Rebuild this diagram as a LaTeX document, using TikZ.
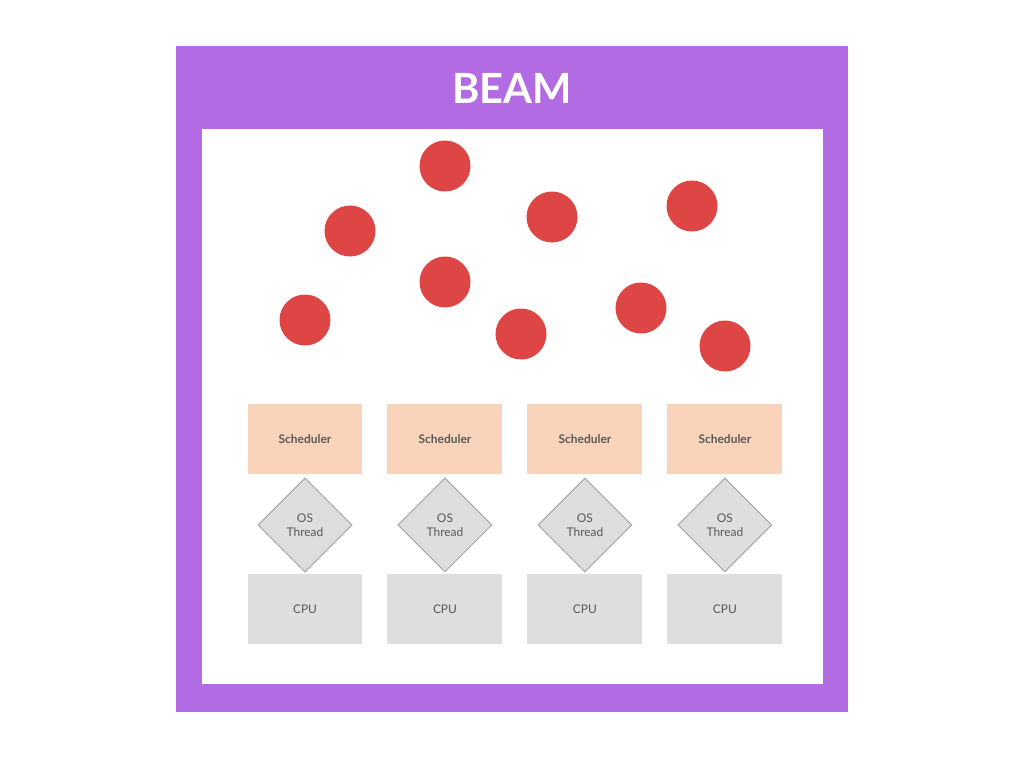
\documentclass[tikz,border=0pt]{standalone}
\usepackage{fontspec}
\setmainfont{Lato}
\usetikzlibrary{shapes,positioning}
\definecolor{beampurple}{HTML}{B36BE3}
\definecolor{procred}{HTML}{DE4646}
\definecolor{schedfill}{HTML}{FAD4BA}
\definecolor{boxgrey}{HTML}{DEDEDE}
\definecolor{thrborder}{HTML}{A8A8A8}
\definecolor{textgrey}{HTML}{585858}

\begin{document}
\begin{tikzpicture}[x=0.02cm, y=-0.02cm, node distance=2.8cm]
\tikzstyle{proc}=[circle,fill=procred,minimum size=1.02cm,inner sep=0pt]
\tikzstyle{sched}=[rectangle,fill=schedfill,text=textgrey,minimum width=2.3cm,minimum height=1.4cm,font=\fontsize{6.8}{8}\selectfont\bfseries]
\tikzstyle{thr}=[diamond,draw=thrborder,line width=0.6pt,fill=boxgrey,text=textgrey,align=center,minimum size=1.88cm,inner sep=0pt,font=\fontsize{6.8}{8}\selectfont]
\tikzstyle{cpu}=[rectangle,fill=boxgrey,text=textgrey,minimum width=2.3cm,minimum height=1.4cm,font=\fontsize{6.8}{8}\selectfont]
\useasboundingbox (0,0) rectangle (1024,768);
\fill[beampurple] (176,46) rectangle (848,712);
\fill[white] (202,129) rectangle (823,684);
\node[text=white,font=\fontsize{23.7}{28}\selectfont\bfseries] (title) at (512,88) {BEAM};
% processes
\node[proc] (p1) at (445,166) {};
\node[proc] (p2) at (350,231) {};
\node[proc] (p3) at (552,217) {};
\node[proc] (p4) at (692,206) {};
\node[proc] (p5) at (445,282) {};
\node[proc] (p6) at (305,320) {};
\node[proc] (p7) at (521,334) {};
\node[proc] (p8) at (641,308) {};
\node[proc] (p9) at (725,346) {};
% schedulers
\node[sched] (S1) at (305,439) {Scheduler};
\node[sched] (S2) [right of=S1] {Scheduler};
\node[sched] (S3) [right of=S2] {Scheduler};
\node[sched] (S4) [right of=S3] {Scheduler};
% threads
\node[thr] (T1) [below of=S1, node distance=1.72cm] {OS\\Thread};
\node[thr] (T2) [right of=T1] {OS\\Thread};
\node[thr] (T3) [right of=T2] {OS\\Thread};
\node[thr] (T4) [right of=T3] {OS\\Thread};
% cpus
\node[cpu] (C1) [below of=T1, node distance=1.68cm] {CPU};
\node[cpu] (C2) [right of=C1] {CPU};
\node[cpu] (C3) [right of=C2] {CPU};
\node[cpu] (C4) [right of=C3] {CPU};
\end{tikzpicture}
\end{document}
